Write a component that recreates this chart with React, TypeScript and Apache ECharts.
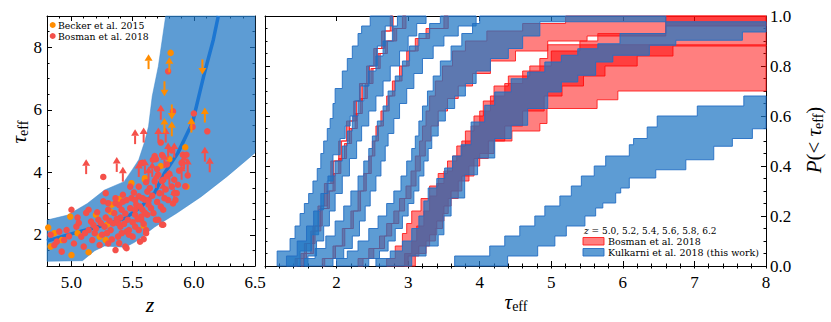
import React, { useEffect, useRef } from "react";
import * as echarts from "echarts";

// ---------------- left panel data (z vs tau_eff) ----------------
const zMajorTicks = [5.0, 5.5, 6.0, 6.5];
const tauLeftTicks = [2, 4, 6, 8];
const bandLower = [[4.8, 1.15], [5.09, 1.17], [5.19, 1.49], [5.27, 1.64], [5.44, 1.6], [5.52, 1.77], [5.6, 2.01], [5.68, 2.25], [5.86, 2.69], [6.06, 3.22], [6.27, 3.86], [6.5, 4.62]];
const bandUpper = [[4.8, 2.47], [4.97, 2.63], [5.13, 3.0], [5.27, 3.43], [5.43, 3.7], [5.5, 4.1], [5.55, 4.4], [5.6, 5.0], [5.63, 5.47], [5.66, 6.43], [5.71, 7.39], [5.77, 9.0], [6.5, 9.0]];
const medianLine = [[4.8, 1.8], [5.02, 2.05], [5.27, 2.31], [5.44, 2.53], [5.57, 2.9], [5.68, 3.34], [5.76, 3.97], [5.87, 4.62], [5.99, 5.6], [6.08, 7.07], [6.16, 8.25], [6.2, 9.0]];
const beckerPoints = [[4.81, 2.23], [4.83, 1.62], [4.86, 2.05], [4.92, 1.83], [4.99, 2.58], [5.0, 1.35], [5.05, 2.05], [5.14, 1.44], [5.23, 1.94], [5.29, 2.32], [5.33, 2.96], [5.39, 3.14], [5.49, 3.65], [5.59, 2.29], [5.6, 3.76], [5.73, 4.2], [5.8, 4.42], [5.93, 4.8], [5.94, 3.54], [5.81, 7.82], [5.2, 2.64], [5.32, 2.74], [5.28, 1.83], [5.6, 3.81]];
const bosmanPoints = [
  [4.79, 1.94], [4.86, 1.67], [4.92, 1.46], [4.94, 1.83], [4.96, 2.15], [5.0, 2.8], [5.04, 2.26], [5.05, 2.55], [5.08, 1.94], [5.1, 1.62],
  [5.14, 2.15], [5.14, 2.8], [5.17, 1.83], [5.18, 2.31], [5.19, 2.05], [5.22, 2.48], [5.23, 1.67], [5.25, 2.0], [5.27, 2.26], [5.26, 3.85],
  [5.28, 2.55], [5.3, 2.8], [5.3, 1.72], [5.32, 2.15], [5.34, 2.36], [5.35, 2.69], [5.36, 3.01], [5.36, 1.51], [5.38, 1.94], [5.4, 2.26],
  [5.4, 2.55], [5.41, 2.8], [5.42, 3.06], [5.44, 1.62], [5.45, 2.1], [5.46, 2.48], [5.48, 2.85], [5.49, 3.17], [5.5, 1.94], [5.52, 2.26],
  [5.52, 2.64], [5.53, 2.96], [5.55, 3.23], [5.56, 1.78], [5.57, 2.48], [5.58, 2.8], [5.58, 4.3], [5.6, 3.12], [5.61, 2.15], [5.62, 2.64],
  [5.63, 2.96], [5.64, 3.49], [5.665, 4.4], [5.69, 4.42], [5.75, 3.76], [5.79, 3.11], [5.84, 3.33], [5.85, 3.11], [5.74, 2.32], [5.67, 2.69],
  [5.69, 2.48], [5.57, 2.58], [5.61, 2.05], [5.59, 1.86], [5.55, 2.15], [5.52, 2.8], [5.47, 2.15], [5.41, 2.05], [5.39, 1.73], [5.45, 1.57],
  [5.38, 2.37], [5.3, 3.01], [5.26, 3.07], [5.28, 3.33], [5.36, 3.17], [5.42, 3.28], [5.45, 3.11], [5.48, 3.54], [5.52, 3.11], [5.55, 3.54],
  [5.58, 3.17], [5.62, 3.38], [5.61, 3.68], [5.68, 3.71], [5.68, 4.52], [5.57, 4.29], [5.79, 7.23], [5.83, 5.95], [5.73, 4.95], [6.0, 5.88],
  [5.99, 5.45], [6.11, 5.31], [5.68, 4.45], [5.91, 4.56], [5.94, 4.56], [5.71, 3.92], [5.78, 3.87], [5.84, 3.76], [5.74, 3.72], [5.82, 3.54],
  [5.72, 3.33], [5.86, 3.33], [5.76, 3.17], [5.75, 2.8], [5.71, 2.48], [5.75, 2.32], [4.83, 2.0], [4.88, 1.78], [4.9, 2.1], [4.98, 1.95],
  [5.02, 1.72], [5.06, 2.38], [5.11, 2.05], [5.12, 2.7], [5.16, 2.42], [5.2, 2.2], [5.21, 2.72], [5.24, 2.37], [5.29, 2.05], [5.31, 2.45],
  [5.33, 1.85], [5.37, 2.5], [5.39, 2.95], [5.43, 2.35], [5.44, 2.68], [5.47, 2.0], [5.5, 2.4], [5.51, 3.35], [5.54, 2.5], [5.56, 2.9],
  [5.59, 2.35], [5.6, 2.7], [5.63, 3.1], [5.65, 2.85], [5.66, 3.25], [5.7, 3.05], [5.73, 2.9], [5.77, 3.45], [5.8, 3.95], [5.83, 3.0],
  [5.87, 3.6], [5.88, 4.05], [5.9, 4.3], [5.93, 3.55], [5.95, 3.9], [5.78, 4.25], [5.82, 4.7], [5.74, 4.55], [5.7, 4.1]
];
const bosmanUpLimits = [[5.12, 3.94], [5.37, 4.01], [5.42, 3.7], [5.52, 4.9], [5.59, 4.95], [5.55, 3.85], [5.6, 3.95], [5.73, 5.68], [5.71, 4.95], [5.77, 4.95], [5.79, 4.47], [5.84, 4.47], [5.76, 4.13], [5.92, 4.1], [5.95, 3.98], [5.9, 3.76], [6.09, 4.34], [6.13, 4.0], [5.84, 3.0], [5.8, 3.6], [5.75, 3.2], [5.66, 3.85], [5.69, 3.5], [5.63, 3.7]];
const beckerUpLimits = [[5.63, 7.3], [5.8, 7.2], [5.76, 5.26], [5.82, 5.15], [5.98, 5.27], [6.09, 5.59]];
const beckerDownLimits = [[6.07, 7.61], [5.76, 6.91], [5.82, 6.17]];

// ---------------- right panel data (CDF bands, [tau, P] step corners) ----------------
const tauRightTicks = [1, 2, 3, 4, 5, 6, 7, 8];
const tauRightLabels = [2, 3, 4, 5, 6, 7, 8];
const pTicks = [0, 0.2, 0.4, 0.6, 0.8, 1.0];

const kul50L = [[1.17, 0], [1.17, 0.06], [1.35, 0.11], [1.42, 0.16], [1.49, 0.21], [1.55, 0.25], [1.61, 0.29], [1.67, 0.34], [1.73, 0.39], [1.78, 0.45], [1.82, 0.5], [1.87, 0.55], [1.91, 0.59], [1.95, 0.65], [1.98, 0.71], [2.08, 0.78], [2.15, 0.83], [2.22, 0.88], [2.3, 0.93], [2.35, 0.96], [2.47, 1.0]];
const kul50R = [[1.49, 0], [1.49, 0.06], [1.65, 0.125], [1.75, 0.225], [1.82, 0.29], [1.87, 0.34], [1.95, 0.445], [2.05, 0.51], [2.12, 0.56], [2.19, 0.6], [2.26, 0.66], [2.33, 0.72], [2.45, 0.8], [2.57, 0.88], [2.68, 0.96], [2.78, 1.0]];
const bos50L = [[1.5, 0], [1.5, 0.05], [1.64, 0.14], [1.74, 0.24], [1.83, 0.33], [1.92, 0.42], [2.03, 0.5], [2.14, 0.58], [2.24, 0.66], [2.32, 0.73], [2.42, 0.8], [2.52, 0.87], [2.63, 0.94], [2.75, 1.0]];
const bos50R = [[1.54, 0], [1.54, 0.05], [1.68, 0.14], [1.78, 0.24], [1.87, 0.33], [1.96, 0.42], [2.07, 0.5], [2.18, 0.58], [2.28, 0.66], [2.36, 0.73], [2.46, 0.8], [2.56, 0.87], [2.67, 0.94], [2.79, 1.0]];

const kul52L = [[1.3, 0], [1.3, 0.04], [1.45, 0.1], [1.58, 0.16], [1.68, 0.22], [1.78, 0.29], [1.88, 0.36], [1.98, 0.42], [2.08, 0.48], [2.15, 0.54], [2.22, 0.6], [2.3, 0.66], [2.38, 0.72], [2.45, 0.78], [2.55, 0.84], [2.65, 0.9], [2.78, 0.96], [2.85, 1.0]];
const kul52R = [[1.6, 0], [1.6, 0.04], [1.72, 0.1], [1.82, 0.16], [1.9, 0.22], [1.98, 0.29], [2.08, 0.36], [2.18, 0.43], [2.28, 0.5], [2.35, 0.56], [2.45, 0.62], [2.55, 0.68], [2.65, 0.74], [2.75, 0.8], [2.88, 0.86], [3.0, 0.92], [3.12, 0.97], [3.25, 1.0]];
const bos52L = [[1.42, 0], [1.42, 0.03], [1.55, 0.09], [1.67, 0.16], [1.77, 0.23], [1.87, 0.3], [1.95, 0.37], [2.03, 0.43], [2.11, 0.49], [2.18, 0.55], [2.26, 0.61], [2.33, 0.67], [2.4, 0.73], [2.48, 0.79], [2.58, 0.85], [2.68, 0.9], [2.8, 0.95], [2.92, 1.0]];
const bos52R = [[1.45, 0], [1.45, 0.03], [1.58, 0.09], [1.7, 0.16], [1.8, 0.23], [1.9, 0.3], [1.98, 0.37], [2.06, 0.43], [2.14, 0.49], [2.21, 0.55], [2.29, 0.61], [2.36, 0.67], [2.43, 0.73], [2.51, 0.79], [2.61, 0.85], [2.71, 0.9], [2.84, 0.95], [2.97, 1.0]];

const kul54L = [[1.55, 0], [1.55, 0.03], [1.7, 0.07], [1.85, 0.12], [1.98, 0.18], [2.1, 0.24], [2.2, 0.3], [2.3, 0.36], [2.38, 0.42], [2.45, 0.47], [2.5, 0.52], [2.57, 0.58], [2.65, 0.64], [2.72, 0.7], [2.82, 0.76], [2.92, 0.82], [3.02, 0.88], [3.15, 0.93], [3.3, 0.97], [3.45, 1.0]];
const kul54R = [[1.95, 0], [1.95, 0.03], [2.1, 0.07], [2.22, 0.12], [2.32, 0.18], [2.4, 0.24], [2.47, 0.3], [2.55, 0.36], [2.62, 0.42], [2.68, 0.48], [2.72, 0.53], [2.8, 0.59], [2.88, 0.65], [2.98, 0.71], [3.08, 0.77], [3.2, 0.83], [3.35, 0.88], [3.5, 0.92], [3.7, 0.96], [3.95, 1.0]];
const bos54L = [[1.8, 0], [1.8, 0.03], [1.95, 0.08], [2.08, 0.15], [2.2, 0.22], [2.3, 0.3], [2.38, 0.37], [2.45, 0.44], [2.5, 0.5], [2.55, 0.56], [2.62, 0.62], [2.7, 0.68], [2.78, 0.74], [2.88, 0.8], [2.98, 0.86], [3.1, 0.91], [3.25, 0.95], [3.5, 1.0]];
const bos54R = [[1.835, 0], [1.835, 0.03], [1.985, 0.08], [2.115, 0.15], [2.235, 0.22], [2.335, 0.3], [2.415, 0.37], [2.485, 0.44], [2.535, 0.5], [2.585, 0.56], [2.655, 0.62], [2.735, 0.68], [2.815, 0.74], [2.915, 0.8], [3.015, 0.86], [3.14, 0.91], [3.3, 0.95], [3.56, 1.0]];

const kul56L = [[2.0, 0], [2.0, 0.03], [2.15, 0.06], [2.3, 0.1], [2.45, 0.15], [2.58, 0.2], [2.7, 0.25], [2.8, 0.3], [2.9, 0.36], [2.98, 0.42], [3.05, 0.47], [3.1, 0.52], [3.15, 0.58], [3.2, 0.64], [3.27, 0.7], [3.35, 0.76], [3.45, 0.82], [3.6, 0.88], [3.75, 0.93], [3.9, 0.97], [4.0, 1.0]];
const kul56R = [[2.45, 0], [2.45, 0.03], [2.6, 0.06], [2.72, 0.1], [2.82, 0.15], [2.92, 0.2], [3.0, 0.25], [3.08, 0.3], [3.15, 0.36], [3.22, 0.42], [3.28, 0.47], [3.33, 0.52], [3.42, 0.58], [3.52, 0.63], [3.65, 0.68], [3.8, 0.73], [3.95, 0.78], [4.15, 0.83], [4.4, 0.87], [4.6, 0.92], [4.84, 0.977], [6.6, 1.0]];
const bos56L = [[2.3, 0], [2.3, 0.03], [2.45, 0.07], [2.6, 0.12], [2.7, 0.17], [2.8, 0.22], [2.88, 0.27], [2.97, 0.32], [3.04, 0.38], [3.1, 0.44], [3.16, 0.5], [3.2, 0.56], [3.25, 0.62], [3.3, 0.68], [3.38, 0.74], [3.48, 0.8], [3.62, 0.86], [3.8, 0.9], [4.1, 0.94], [4.6, 0.97], [5.2, 1.0], [8.0, 1.0]];
const bos56R = [[2.37, 0], [2.37, 0.03], [2.52, 0.07], [2.67, 0.12], [2.77, 0.17], [2.87, 0.22], [2.95, 0.27], [3.04, 0.32], [3.11, 0.38], [3.17, 0.44], [3.24, 0.5], [3.32, 0.56], [3.42, 0.62], [3.55, 0.67], [3.7, 0.72], [3.9, 0.77], [4.15, 0.82], [4.5, 0.86], [4.95, 0.9], [5.5, 0.92], [6.6, 0.96], [8.0, 0.975]];

const kul58L = [[2.55, 0], [2.55, 0.03], [2.75, 0.06], [2.92, 0.1], [3.05, 0.15], [3.15, 0.2], [3.22, 0.26], [3.28, 0.312], [3.4, 0.35], [3.51, 0.392], [3.62, 0.44], [3.74, 0.485], [3.88, 0.576], [4.07, 0.643], [4.21, 0.696], [4.44, 0.749], [4.67, 0.776], [4.91, 0.816], [5.14, 0.843], [5.37, 0.869], [5.65, 0.889], [5.96, 0.93], [6.6, 0.977], [8.0, 0.977]];
const kul58R = [[3.05, 0], [3.05, 0.04], [3.25, 0.08], [3.42, 0.125], [3.5, 0.2], [3.6, 0.272], [3.79, 0.365], [3.97, 0.432], [4.21, 0.51], [4.44, 0.563], [4.67, 0.63], [4.95, 0.696], [5.14, 0.736], [5.37, 0.763], [5.62, 0.816], [5.86, 0.843], [6.37, 0.883], [6.74, 0.903], [7.67, 0.936], [8.0, 0.936]];
const bos58L = [[2.7, 0], [2.7, 0.03], [2.82, 0.08], [2.92, 0.13], [2.98, 0.17], [3.05, 0.22], [3.18, 0.27], [3.3, 0.32], [3.42, 0.37], [3.55, 0.42], [3.68, 0.48], [3.8, 0.54], [3.92, 0.6], [4.05, 0.66], [4.2, 0.72], [4.4, 0.76], [4.7, 0.8], [5.0, 0.86], [5.4, 0.9], [5.65, 0.93], [6.6, 1.0], [8.0, 1.0]];
const bos58R = [[3.0, 0], [3.0, 0.04], [3.15, 0.08], [3.3, 0.125], [3.4, 0.18], [3.5, 0.24], [3.6, 0.3], [3.75, 0.36], [3.92, 0.43], [4.12, 0.5], [4.35, 0.56], [4.6, 0.62], [4.9, 0.68], [5.15, 0.72], [5.45, 0.76], [5.75, 0.8], [6.2, 0.84], [6.7, 0.88], [8.0, 0.88]];

const kul62L = [[3.65, 0], [3.65, 0.04], [4.14, 0.08], [4.35, 0.12], [4.56, 0.16], [4.77, 0.2], [4.91, 0.24], [5.12, 0.28], [5.28, 0.32], [5.42, 0.36], [5.6, 0.4], [5.76, 0.44], [6.09, 0.485], [6.15, 0.51], [6.34, 0.556], [6.48, 0.6], [7.04, 0.64], [7.69, 0.68], [8.0, 0.68]];
const kul62R = [[4.39, 0], [4.39, 0.04], [4.81, 0.08], [5.05, 0.12], [5.21, 0.16], [5.47, 0.2], [5.62, 0.232], [5.72, 0.252], [5.9, 0.292], [5.97, 0.312], [6.09, 0.352], [6.46, 0.385], [6.88, 0.425], [7.27, 0.479], [7.53, 0.51], [7.81, 0.549], [8.0, 0.549]];
const bos62L = [[2.95, 0], [2.95, 0.05], [3.05, 0.1], [3.12, 0.16], [3.22, 0.22], [3.3, 0.28], [3.4, 0.33], [3.5, 0.38], [3.62, 0.44], [3.75, 0.5], [3.88, 0.56], [4.0, 0.62], [4.15, 0.68], [4.35, 0.73], [4.6, 0.78], [4.84, 0.83], [4.95, 0.885], [8.0, 0.885]];
const bos62R = [[3.1, 0], [3.1, 0.05], [3.25, 0.1], [3.38, 0.15], [3.48, 0.21], [3.56, 0.27], [3.7, 0.34], [3.85, 0.4], [4.0, 0.45], [4.2, 0.5], [4.45, 0.54], [4.84, 0.57], [4.94, 0.63], [5.64, 0.665], [5.93, 0.7], [8.0, 0.7]];

const bosmanBands = [[bos50L, bos50R], [bos52L, bos52R], [bos54L, bos54R], [bos56L, bos56R], [bos58L, bos58R], [bos62L, bos62R]];
const kulkarniBands = [[kul50L, kul50R], [kul52L, kul52R], [kul54L, kul54R], [kul56L, kul56R], [kul58L, kul58R], [kul62L, kul62R]];

// ---------------- styles ----------------
const SERIF = "Liberation Serif";
const LEG = "DejaVu Serif";
const BLUE_FILL = "rgba(30,118,196,0.72)";
const BLUE_EDGE = "rgba(35,110,195,0.9)";
const RED_FILL = "rgba(255,0,0,0.5)";
const RED_EDGE = "rgba(255,30,30,0.9)";
const ORANGE = "#ff8c00";
const RED_PT = "#f4504a";
const MEDIAN = "rgb(28,118,210)";

const stairs = (edge: number[][]) => {
  const out: number[][] = [edge[0]];
  for (let i = 1; i < edge.length; i++) {
    out.push([edge[i][0], edge[i - 1][1]]);
    out.push(edge[i]);
  }
  return out;
};

const bandSeries = (left: number[][], right: number[][], fill: string, stroke: string, z: number) => ({
  type: "custom",
  xAxisIndex: 4,
  yAxisIndex: 4,
  z,
  silent: true,
  data: [left[0]],
  renderItem: (_p: any, api: any) => {
    const pts = stairs(left).concat(stairs(right).reverse()).map((p) => api.coord(p));
    return { type: "polygon", shape: { points: pts }, style: { fill, stroke, lineWidth: 1 } };
  },
});

const arrowSeries = (data: number[][], color: string, dir: number) => ({
  type: "custom",
  xAxisIndex: 0,
  yAxisIndex: 0,
  z: 6,
  silent: true,
  data,
  renderItem: (_p: any, api: any) => {
    const p = api.coord([api.value(0), api.value(1)]);
    const L = 15, hw = 4, hh = 6.5;
    const tipY = p[1] + dir * L;
    return {
      type: "group",
      children: [
        { type: "line", shape: { x1: p[0], y1: p[1], x2: p[0], y2: tipY - dir * hh }, style: { stroke: color, lineWidth: 2 } },
        { type: "polygon", shape: { points: [[p[0], tipY], [p[0] - hw, tipY - dir * hh], [p[0] + hw, tipY - dir * hh]] }, style: { fill: color } },
      ],
    };
  },
});

const tickLabel = { color: "#000", fontFamily: SERIF, fontSize: 17 };

const majorAxis = (gridIndex: number, position: string, min: number, max: number, ticks: number[], labels: number[] | null, fmt: any, margin: number) => ({
  type: "value", gridIndex, position, min, max,
  axisLine: { show: true, onZero: false, lineStyle: { color: "#000", width: 1 } },
  axisTick: { show: true, inside: true, length: 5, customValues: ticks, lineStyle: { color: "#000", width: 1 } },
  axisLabel: labels ? { show: true, customValues: labels, formatter: fmt, margin, showMinLabel: true, showMaxLabel: true, ...tickLabel } : { show: false },
  splitLine: { show: false },
});
const minorAxis = (gridIndex: number, position: string, min: number, max: number, interval: number) => ({
  type: "value", gridIndex, position, min, max, interval,
  axisLine: { show: false },
  axisTick: { show: true, inside: true, length: 2.5, lineStyle: { color: "#000", width: 1 } },
  axisLabel: { show: false },
  splitLine: { show: false },
});

const f1 = (v: number) => v.toFixed(1);
const f0 = (v: number) => String(v);

const sub = (size: number) => ({ fontSize: size, fontFamily: SERIF, fill: "#000", padding: [Math.round(size * 0.55), 0, 0, 0] });

const option: any = {
  animation: false,
  textStyle: { fontFamily: SERIF },
  grid: [
    { left: 47, top: 16, width: 208, height: 250 },
    { left: 265, top: 16, width: 501, height: 250 },
  ],
  xAxis: [
    majorAxis(0, "bottom", 4.8, 6.5, zMajorTicks, zMajorTicks, f1, 8),
    minorAxis(0, "bottom", 4.8, 6.5, 0.1),
    majorAxis(0, "top", 4.8, 6.5, zMajorTicks, null, null, 0),
    minorAxis(0, "top", 4.8, 6.5, 0.1),
    majorAxis(1, "bottom", 1, 8, tauRightTicks, tauRightLabels, f0, 8),
    minorAxis(1, "bottom", 1, 8, 0.2),
    majorAxis(1, "top", 1, 8, tauRightTicks, null, null, 0),
    minorAxis(1, "top", 1, 8, 0.2),
  ],
  yAxis: [
    majorAxis(0, "left", 1, 9, tauLeftTicks, tauLeftTicks, f0, 5),
    minorAxis(0, "left", 1, 9, 0.5),
    majorAxis(0, "right", 1, 9, tauLeftTicks, null, null, 0),
    minorAxis(0, "right", 1, 9, 0.5),
    majorAxis(1, "left", 0, 1, pTicks, null, null, 0),
    minorAxis(1, "left", 0, 1, 0.05),
    majorAxis(1, "right", 0, 1, pTicks, pTicks, f1, 4),
    minorAxis(1, "right", 0, 1, 0.05),
  ],
  series: [
    {
      type: "custom", xAxisIndex: 0, yAxisIndex: 0, z: 2, silent: true,
      data: [bandLower[0]],
      renderItem: (_p: any, api: any) => {
        const pts = bandLower.concat(bandUpper.slice().reverse()).map((p) => api.coord(p));
        return { type: "polygon", shape: { points: pts }, style: { fill: BLUE_FILL, stroke: "rgba(60,135,205,0.6)", lineWidth: 0.8 } };
      },
    },
    { type: "line", xAxisIndex: 0, yAxisIndex: 0, z: 3, data: medianLine, showSymbol: false, silent: true, lineStyle: { color: MEDIAN, width: 3.5 } },
    { type: "scatter", xAxisIndex: 0, yAxisIndex: 0, z: 4, data: beckerPoints, symbolSize: 6.5, itemStyle: { color: ORANGE, opacity: 1 }, silent: true },
    { type: "scatter", xAxisIndex: 0, yAxisIndex: 0, z: 4, data: bosmanPoints, symbolSize: 6.5, itemStyle: { color: RED_PT, opacity: 1 }, silent: true },
    arrowSeries(bosmanUpLimits, RED_PT, -1),
    arrowSeries(beckerUpLimits, ORANGE, -1),
    arrowSeries(beckerDownLimits, ORANGE, 1),
    ...bosmanBands.map(([l, r]) => bandSeries(l, r, RED_FILL, RED_EDGE, 2)),
    ...kulkarniBands.map(([l, r]) => bandSeries(l, r, BLUE_FILL, BLUE_EDGE, 3)),
  ],
  graphic: [
    { type: "circle", shape: { cx: 52.7, cy: 25, r: 3 }, style: { fill: ORANGE }, z: 20 },
    { type: "text", x: 58, y: 25, z: 20, style: { text: "Becker et al. 2015", fontFamily: LEG, fontSize: 9.3, fill: "#000", align: "left", verticalAlign: "middle" } },
    { type: "circle", shape: { cx: 52.7, cy: 36, r: 3 }, style: { fill: RED_PT }, z: 20 },
    { type: "text", x: 58, y: 36, z: 20, style: { text: "Bosman et al. 2018", fontFamily: LEG, fontSize: 9.3, fill: "#000", align: "left", verticalAlign: "middle" } },
    { type: "text", x: 584, y: 230.5, z: 20, style: { text: "{i|z} = 5.0, 5.2, 5.4, 5.6, 5.8, 6.2", fontFamily: LEG, fontSize: 9, fill: "#000", align: "left", verticalAlign: "middle", rich: { i: { fontFamily: LEG, fontSize: 9, fontStyle: "italic", fill: "#000" } } } },
    { type: "rect", shape: { x: 583, y: 237.5, width: 21, height: 7.5 }, style: { fill: RED_FILL, stroke: RED_EDGE, lineWidth: 1 }, z: 20 },
    { type: "text", x: 608, y: 241.3, z: 20, style: { text: "Bosman et al. 2018", fontFamily: LEG, fontSize: 9.5, fill: "#000", align: "left", verticalAlign: "middle" } },
    { type: "rect", shape: { x: 583, y: 248.5, width: 21, height: 7.5 }, style: { fill: BLUE_FILL, stroke: BLUE_EDGE, lineWidth: 1 }, z: 20 },
    { type: "text", x: 608, y: 252.3, z: 20, style: { text: "Kulkarni et al. 2018 (this work)", fontFamily: LEG, fontSize: 9.5, fill: "#000", align: "left", verticalAlign: "middle" } },
    { type: "text", x: 150, y: 304, z: 20, style: { text: "z", fontFamily: SERIF, fontSize: 22, fontStyle: "italic", fill: "#000", align: "center", verticalAlign: "middle" } },
    { type: "text", x: 516, y: 302, z: 20, style: { text: "{t|τ}{s|eff}", align: "center", verticalAlign: "middle", rich: { t: { fontSize: 21, fontFamily: SERIF, fontStyle: "italic", fill: "#000" }, s: sub(14) } } },
    { type: "text", x: 19, y: 132, rotation: Math.PI / 2, z: 20, style: { text: "{t|τ}{s|eff}", align: "center", verticalAlign: "middle", rich: { t: { fontSize: 21, fontFamily: SERIF, fontStyle: "italic", fill: "#000" }, s: sub(14) } } },
    { type: "text", x: 814, y: 140, rotation: Math.PI / 2, z: 20, style: { text: "{i|P}{n|(< }{i|τ}{s|eff}{n|)}", align: "center", verticalAlign: "middle", rich: { i: { fontSize: 21, fontFamily: SERIF, fontStyle: "italic", fill: "#000" }, n: { fontSize: 21, fontFamily: SERIF, fill: "#000" }, s: sub(14) } } },
  ],
};

export default function App() {
  const ref = useRef<HTMLDivElement>(null);
  useEffect(() => {
    const chart = echarts.init(ref.current as HTMLDivElement, null, { renderer: "svg" });
    chart.setOption(option);
    return () => chart.dispose();
  }, []);
  return <div ref={ref} style={{ position: "absolute", left: 0, top: 0, width: 831, height: 322 }} />;
}
